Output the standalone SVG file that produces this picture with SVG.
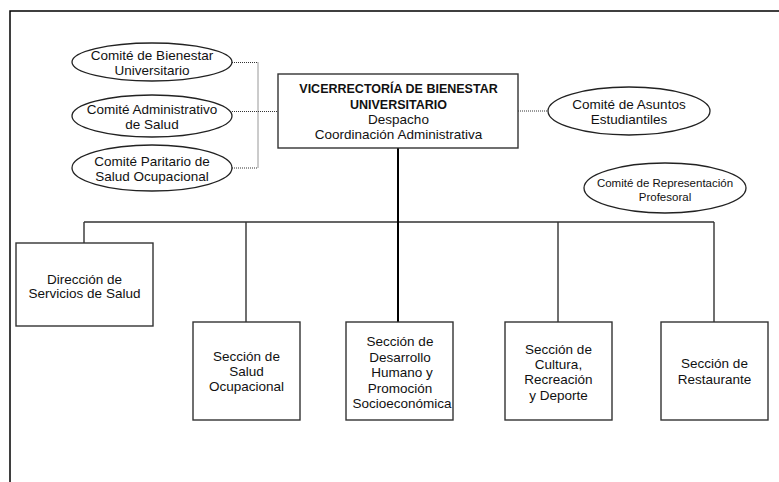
<svg xmlns="http://www.w3.org/2000/svg" width="779" height="482" viewBox="0 0 779 482">
<style>
.bg{fill:#fff}
.frame{fill:none;stroke:#000;stroke-width:1.5}
.box{fill:#fff;stroke:#333;stroke-width:1.4}
.ell{fill:#fff;stroke:#222;stroke-width:1.3}
.t{font-family:"Liberation Sans",Arial,sans-serif;font-size:13.5px;fill:#111;text-anchor:middle}
.b{font-weight:bold;font-size:12.5px}
.s{font-size:11.5px}
.dot{fill:none;stroke:#333;stroke-width:1;stroke-dasharray:1 1}
.ln{fill:none;stroke:#333;stroke-width:1.4}
.main{fill:none;stroke:#000;stroke-width:2}
</style>
<rect class="bg" x="0" y="0" width="779" height="482"/>
<path class="frame" d="M10,482 V11 H779"/>
<g id="connectors">
<path class="dot" d="M232,62.5 H258 M230,111.5 H278 M232,168 H258 M258,62.5 V168 M518,111 H548"/>
<path class="ln" d="M84,222 H714 M84,222 V243 M246,222 V322 M558,222 V322 M714,222 V322"/>
<path class="main" d="M398,148 V322"/>
</g>
<g id="comite-bienestar">
<ellipse class="ell" cx="152" cy="62" rx="80" ry="19"/>
<text class="t" x="152" y="59.5">Comité de Bienestar</text>
<text class="t" x="152" y="75">Universitario</text>
</g>
<g id="comite-administrativo">
<ellipse class="ell" cx="152" cy="116" rx="80" ry="21"/>
<text class="t" x="152" y="113.5">Comité Administrativo</text>
<text class="t" x="152" y="129">de Salud</text>
</g>
<g id="comite-paritario">
<ellipse class="ell" cx="152" cy="168" rx="80" ry="23"/>
<text class="t" x="152" y="166">Comité Paritario de</text>
<text class="t" x="152" y="181">Salud Ocupacional</text>
</g>
<g id="vicerrectoria">
<rect class="box" x="278" y="74" width="240" height="74"/>
<text class="t b" x="398.5" y="93">VICERRECTORÍA DE BIENESTAR</text>
<text class="t b" x="398.5" y="108.5">UNIVERSITARIO</text>
<text class="t" x="398.5" y="123.5">Despacho</text>
<text class="t" x="398.5" y="139">Coordinación Administrativa</text>
</g>
<g id="comite-asuntos">
<ellipse class="ell" cx="629" cy="111" rx="81" ry="24"/>
<text class="t" x="629" y="109">Comité de Asuntos</text>
<text class="t" x="629" y="123.5">Estudiantiles</text>
</g>
<g id="comite-representacion">
<ellipse class="ell" cx="665" cy="188" rx="81" ry="25"/>
<text class="t s" x="665" y="187">Comité de Representación</text>
<text class="t s" x="665" y="200.5">Profesoral</text>
</g>
<g id="direccion">
<rect class="box" x="16" y="243" width="137" height="83"/>
<text class="t" x="84.5" y="283.5">Dirección de</text>
<text class="t" x="84.5" y="297.5">Servicios de Salud</text>
</g>
<g id="seccion-salud">
<rect class="box" x="193" y="322" width="107" height="98"/>
<text class="t" x="246.5" y="361">Sección de</text>
<text class="t" x="246.5" y="376">Salud</text>
<text class="t" x="246.5" y="391">Ocupacional</text>
</g>
<g id="seccion-desarrollo">
<rect class="box" x="346" y="322" width="107" height="98"/>
<text class="t" x="400" y="346">Sección de</text>
<text class="t" x="400" y="361.5">Desarrollo</text>
<text class="t" x="402" y="377">Humano y</text>
<text class="t" x="400" y="392.5">Promoción</text>
<text class="t" x="402" y="408">Socioeconómica</text>
</g>
<g id="seccion-cultura">
<rect class="box" x="505" y="322" width="107" height="98"/>
<text class="t" x="558.5" y="353.5">Sección de</text>
<text class="t" x="558.5" y="368.5">Cultura,</text>
<text class="t" x="558.5" y="384">Recreación</text>
<text class="t" x="558.5" y="399.5">y Deporte</text>
</g>
<g id="seccion-restaurante">
<rect class="box" x="661" y="322" width="107" height="98"/>
<text class="t" x="714.5" y="367.5">Sección de</text>
<text class="t" x="714.5" y="383.5">Restaurante</text>
</g>
</svg>
